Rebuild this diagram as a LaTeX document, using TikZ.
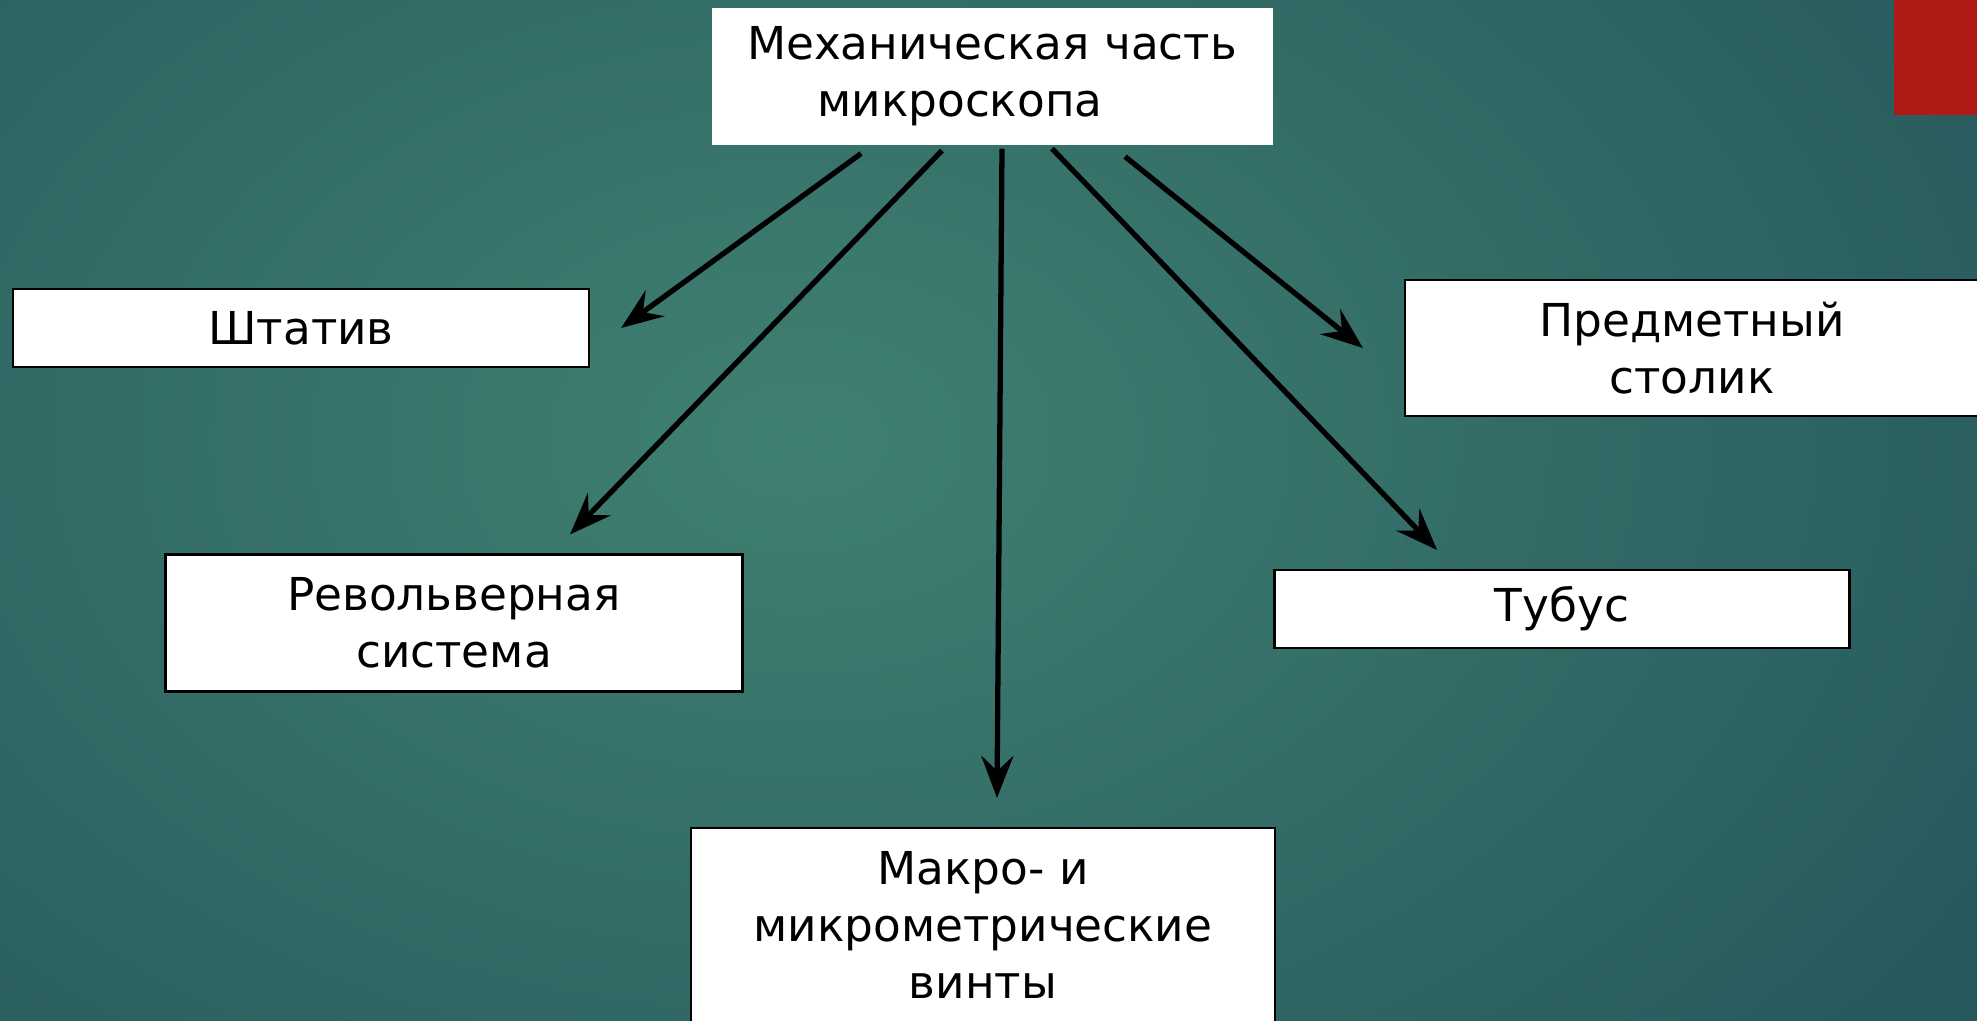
\documentclass[tikz,border=0pt]{standalone}
\usepackage{fontspec}
\setmainfont{DejaVu Sans}
\usetikzlibrary{arrows.meta}

\definecolor{bgin}{RGB}{64,128,114}
\definecolor{bgout}{RGB}{24,66,80}
\definecolor{tabred}{RGB}{175,25,22}

\tikzset{
	box/.style={draw=black, line width=0.6pt, fill=white, align=center, inner sep=0pt,
		font=\fontsize{12.9}{16.2}\selectfont},
	arr/.style={-{Stealth[length=4.2mm, width=3.2mm, inset=1.5mm]}, line width=1.5pt, black}
}

\begin{document}
\begin{tikzpicture}[x=0.1mm, y=-0.1mm]
			%%%%% START %%%%%
			
			\useasboundingbox (0, 0) rectangle (1977, 1020);
			\begin{scope}
				\clip (0, 0) rectangle (1977, 1020);
				\fill[bgout] (0, 0) rectangle (1977, 1020);
				\shade[inner color=bgin, outer color=bgout] (800, 440) ellipse (2200 and 1500);
			\end{scope}
			
			\fill[tabred] (1894, 0) rectangle (1977, 115);
			
			\node[box, draw=none, minimum width=56.1mm, minimum height=13.7mm] (mech) at (992, 76) {Механическая часть\\микроскопа\hspace*{6.4mm}};
			
			\node[box, minimum width=57.6mm, minimum height=7.8mm] (shtativ) at (301, 328) {Штатив};
			\node[box, minimum width=57.4mm, minimum height=13.6mm] (stolik) at (1692, 348) {Предметный\\столик};
			\node[box, minimum width=57.7mm, minimum height=13.7mm] (revolver) at (454, 623) {Револьверная\\система};
			\node[box, minimum width=57.5mm, minimum height=7.8mm] (tubus) at (1562, 609) {Тубус};
			\node[box, minimum width=58.4mm, minimum height=19.4mm] (vinty) at (983, 925) {Макро- и\\микрометрические\\винты};
			
			\draw[arr] ([xshift=-13.1mm, yshift=-0.8mm]mech.south) -- ([xshift=3.1mm]shtativ.east);
			\draw[arr] ([xshift=-5.0mm, yshift=-0.5mm]mech.south) -- ([xshift=11.6mm, yshift=1.9mm]revolver.north);
			\draw[arr] ([xshift=1.0mm, yshift=-0.3mm]mech.south) -- ([xshift=1.4mm, yshift=2.9mm]vinty.north);
			\draw[arr] ([xshift=6.0mm, yshift=-0.3mm]mech.south) -- ([xshift=-12.5mm, yshift=1.9mm]tubus.north);
			\draw[arr] ([xshift=13.3mm, yshift=-1.1mm]mech.south) -- ([xshift=-4.1mm]stolik.west);
			
			%%%%% END %%%%%
\end{tikzpicture}
\end{document}
